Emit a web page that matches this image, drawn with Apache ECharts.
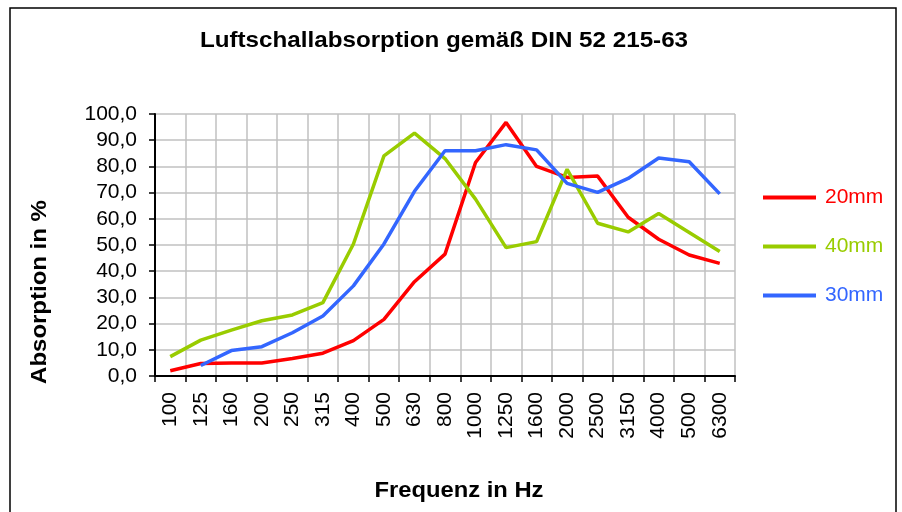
<!DOCTYPE html>
<html>
<head>
<meta charset="utf-8">
<script src="https://cdn.jsdelivr.net/npm/echarts@6/dist/echarts.min.js"></script>
<style>
  html, body { margin: 0; padding: 0; background: #fff; }
  #main { width: 902px; height: 512px; }
</style>
</head>
<body>
<div id="main"></div>
<script>
// Frequency bands (Hz)
var frequencies = ['100', '125', '160', '200', '250', '315', '400', '500', '630', '800',
  '1000', '1250', '1600', '2000', '2500', '3150', '4000', '5000', '6300'];

// Absorption in %
var absorption20mm = [2.0, 4.8, 5.0, 5.0, 6.7, 8.7, 13.5, 21.6, 36.0, 46.5,
  81.5, 96.8, 80.0, 75.8, 76.3, 60.6, 52.2, 46.2, 43.0];
var absorption40mm = [7.4, 13.7, 17.5, 21.1, 23.3, 28.0, 50.4, 84.0, 92.7, 83.0,
  67.5, 49.0, 51.3, 78.9, 58.3, 55.0, 62.0, 54.8, 47.5];
var absorption30mm = [null, 4.0, 9.7, 11.2, 16.5, 22.9, 34.4, 50.4, 70.5, 86.0,
  86.0, 88.3, 86.3, 73.5, 70.1, 75.4, 83.2, 81.8, 69.5];

var seriesNames = ['20mm', '40mm', '30mm'];
var seriesColors = ['#ff0000', '#99cc00', '#3366ff'];

var myChart = echarts.init(document.getElementById('main'));

var font = 'Liberation Sans, Arial, sans-serif';

function makeSeries(i, values) {
  return {
    name: seriesNames[i],
    type: 'line',
    data: values,
    symbol: 'none',
    connectNulls: false,
    lineStyle: { color: seriesColors[i], width: 3.5 },
    itemStyle: { color: seriesColors[i] }
  };
}

myChart.setOption({
  animation: false,
  backgroundColor: '#fff',
  textStyle: { fontFamily: font },
  graphic: [
    {
      type: 'rect',
      shape: { x: 10, y: 8, width: 886, height: 520 },
      style: { fill: 'none', stroke: '#000', lineWidth: 1.5 }
    },
    {
      type: 'text',
      x: 444, y: 41,
      scaleX: 1.1,
      style: {
        text: 'Luftschallabsorption gemäß DIN 52 215-63',
        font: 'bold 22px ' + font,
        fill: '#000', align: 'center', verticalAlign: 'middle'
      }
    },
    {
      type: 'text',
      x: 459, y: 491,
      scaleX: 1.08,
      style: {
        text: 'Frequenz in Hz',
        font: 'bold 22px ' + font,
        fill: '#000', align: 'center', verticalAlign: 'middle'
      }
    },
    {
      type: 'text',
      x: 40, y: 292,
      rotation: Math.PI / 2,
      scaleX: 1.09,
      style: {
        text: 'Absorption in %',
        font: 'bold 22px ' + font,
        fill: '#000', align: 'center', verticalAlign: 'middle'
      }
    }
  ],
  legend: {
    orient: 'vertical',
    left: 758,
    top: 182,
    icon: 'rect',
    itemWidth: 53,
    itemHeight: 4,
    itemGap: 28,
    textStyle: { fontSize: 21, fontFamily: font, padding: [0, 0, 0, 4] },
    data: seriesNames.map(function (n, i) {
      return { name: n, textStyle: { color: seriesColors[i] } };
    })
  },
  grid: {
    left: 155,
    right: 167,
    top: 114,
    bottom: 136,
    containLabel: false
  },
  xAxis: {
    type: 'category',
    data: frequencies,
    boundaryGap: true,
    axisLine: { show: true, lineStyle: { color: '#000', width: 2 } },
    axisTick: { show: true, length: 6, lineStyle: { color: '#000', width: 1.5 } },
    axisLabel: {
      rotate: 90,
      interval: 0,
      margin: 16,
      fontSize: 21,
      color: '#000',
      fontFamily: font
    },
    splitLine: {
      show: true,
      interval: 0,
      lineStyle: { color: '#c0c0c0', width: 1.5 }
    }
  },
  yAxis: {
    type: 'value',
    min: 0,
    max: 100,
    interval: 10,
    axisLine: { show: true, lineStyle: { color: '#000', width: 2 } },
    axisTick: { show: true, length: 6, lineStyle: { color: '#000', width: 1.5 } },
    axisLabel: {
      margin: 18,
      fontSize: 21,
      color: '#000',
      fontFamily: font,
      formatter: function (v) {
        return v.toFixed(1).replace('.', ',');
      }
    },
    splitLine: {
      show: true,
      lineStyle: { color: '#c0c0c0', width: 1.5 }
    }
  },
  series: [
    makeSeries(0, absorption20mm),
    makeSeries(1, absorption40mm),
    makeSeries(2, absorption30mm)
  ]
});
</script>
</body>
</html>
